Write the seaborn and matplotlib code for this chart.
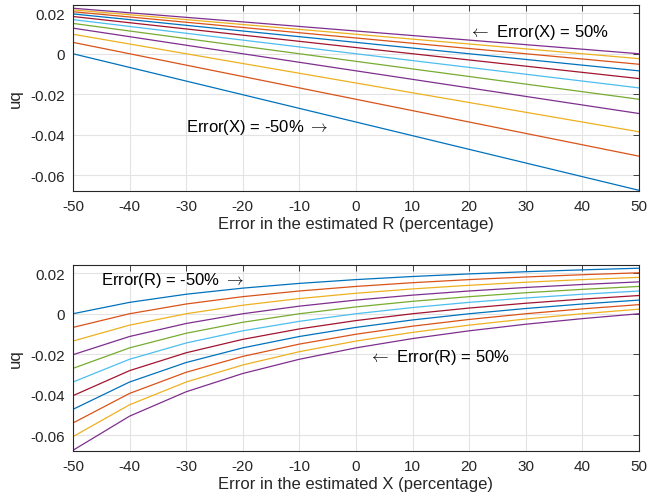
import numpy as np
import pandas as pd
import matplotlib
matplotlib.use("Agg")
import matplotlib.pyplot as plt
import seaborn as sns

# Error percentages (x values for both panels)
err_pct = [-50, -40, -30, -20, -10, 0, 10, 20, 30, 40, 50]

# uq values: rows = error in R (-50..50), columns = error in X (-50..50)
uq_r_m50 = [0.0, 0.00562, 0.00963, 0.01264, 0.01498, 0.01685, 0.01838, 0.01966, 0.02074, 0.02166, 0.02247]
uq_r_m40 = [-0.00674, 0.0, 0.00481, 0.00843, 0.01123, 0.01348, 0.01532, 0.01685, 0.01815, 0.01926, 0.02022]
uq_r_m30 = [-0.01348, -0.00562, 0.0, 0.00421, 0.00749, 0.01011, 0.01225, 0.01404, 0.01555, 0.01685, 0.01797]
uq_r_m20 = [-0.02022, -0.01123, -0.00481, 0.0, 0.00374, 0.00674, 0.00919, 0.01123, 0.01296, 0.01444, 0.01573]
uq_r_m10 = [-0.02696, -0.01685, -0.00963, -0.00421, 0.0, 0.00337, 0.00613, 0.00843, 0.01037, 0.01204, 0.01348]
uq_r_0 = [-0.0337, -0.02247, -0.01444, -0.00843, -0.00374, 0.0, 0.00306, 0.00562, 0.00778, 0.00963, 0.01123]
uq_r_p10 = [-0.04044, -0.02808, -0.01926, -0.01264, -0.00749, -0.00337, 0.0, 0.00281, 0.00518, 0.00722, 0.00899]
uq_r_p20 = [-0.04718, -0.0337, -0.02407, -0.01685, -0.01123, -0.00674, -0.00306, 0.0, 0.00259, 0.00481, 0.00674]
uq_r_p30 = [-0.05392, -0.03932, -0.02889, -0.02106, -0.01498, -0.01011, -0.00613, -0.00281, 0.0, 0.00241, 0.00449]
uq_r_p40 = [-0.06066, -0.04493, -0.0337, -0.02528, -0.01872, -0.01348, -0.00919, -0.00562, -0.00259, 0.0, 0.00225]
uq_r_p50 = [-0.0674, -0.05055, -0.03851, -0.02949, -0.02247, -0.01685, -0.01225, -0.00843, -0.00518, -0.00241, 0.0]

uq_rows = [uq_r_m50, uq_r_m40, uq_r_m30, uq_r_m20, uq_r_m10, uq_r_0,
           uq_r_p10, uq_r_p20, uq_r_p30, uq_r_p40, uq_r_p50]

xtick_labels = ["-50", "-40", "-30", "-20", "-10", "0", "10", "20", "30", "40", "50"]
ytick_vals = [-0.06, -0.04, -0.02, 0.0, 0.02]
ytick_labels = ["-0.06", "-0.04", "-0.02", "0", "0.02"]

matlab_colors = ["#0072BD", "#D95319", "#EDB120", "#7E2F8E", "#77AC30",
                 "#4DBEEE", "#A2142F", "#0072BD", "#D95319", "#EDB120", "#7E2F8E"]

# long-form table
records = []
for i, eR in enumerate(err_pct):
    for j, eX in enumerate(err_pct):
        records.append({"eR": eR, "eX": eX, "uq": uq_rows[i][j],
                        "eR_lbl": f"R{eR}", "eX_lbl": f"X{eX}"})
df = pd.DataFrame(records)

sns.set_style("white")
FAM = ["Liberation Sans", "DejaVu Sans"]
plt.rcParams["font.family"] = FAM
plt.rcParams["axes.unicode_minus"] = False
plt.rcParams["mathtext.fontset"] = "cm"

fig = plt.figure(figsize=(6.61, 5.02), dpi=100)
ax1 = fig.add_axes([0.1104, 0.6181, 0.8563, 0.3705])
ax2 = fig.add_axes([0.1104, 0.1002, 0.8563, 0.3705])

edge = "#262626"
grid_c = "#e3e3e3"

sns.lineplot(data=df, x="eR", y="uq", hue="eX_lbl",
             hue_order=[f"X{v}" for v in err_pct], palette=matlab_colors,
             legend=False, ax=ax1, linewidth=0.9, estimator=None, sort=True)
sns.lineplot(data=df, x="eX", y="uq", hue="eR_lbl",
             hue_order=[f"R{v}" for v in err_pct], palette=matlab_colors,
             legend=False, ax=ax2, linewidth=0.9, estimator=None, sort=True)

for ax, xl in [(ax1, "Error in the estimated R (percentage)"),
               (ax2, "Error in the estimated X (percentage)")]:
    ax.set_xlim(-50, 50)
    ax.set_ylim(-0.0676, 0.0242)
    ax.set_xticks(err_pct)
    ax.set_xticklabels(xtick_labels)
    ax.set_yticks(ytick_vals)
    ax.set_yticklabels(ytick_labels)
    ax.grid(True, color=grid_c, linewidth=0.8)
    ax.set_axisbelow(True)
    for s in ax.spines.values():
        s.set_visible(True)
        s.set_color(edge)
        s.set_linewidth(0.8)
    ax.tick_params(direction="in", length=4, width=0.6, colors=edge,
                   labelsize=11, top=True, right=True, pad=6)
    ax.set_xlabel(xl, fontsize=12, color=edge, labelpad=2)
    ax.set_ylabel("uq", fontsize=12, color=edge, labelpad=5)

ax1.text(20, 0.0108, r"$\leftarrow$ Error(X) = 50%", fontsize=12, color="black",
         va="center", ha="left")
ax1.text(-30, -0.036, r"Error(X) = -50% $\rightarrow$", fontsize=12, color="black",
         va="center", ha="left")
ax2.text(-45, 0.0169, r"Error(R) = -50% $\rightarrow$", fontsize=12, color="black",
         va="center", ha="left")
ax2.text(2.3, -0.0209, r"$\leftarrow$ Error(R) = 50%", fontsize=12, color="black",
         va="center", ha="left")

fig.savefig("out.png", dpi=100)
